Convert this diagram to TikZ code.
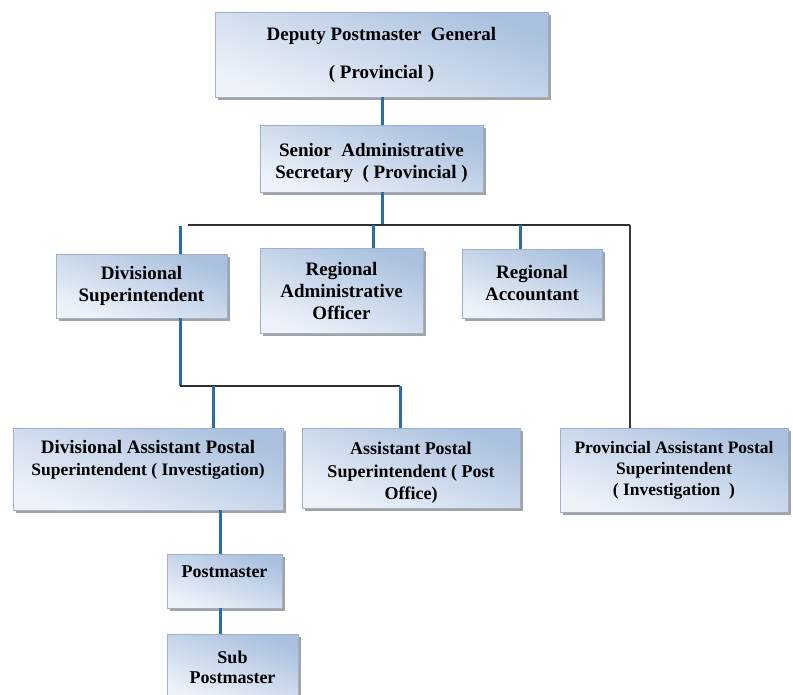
\documentclass[tikz,border=0pt]{standalone}
\usepackage{fontspec}
\setmainfont{Liberation Serif}
\usetikzlibrary{shadows}
\definecolor{boxtop}{HTML}{A9C0DE}
\definecolor{boxbot}{HTML}{EEF3FA}
\definecolor{boxline}{HTML}{9FB1C6}
\definecolor{vblue}{HTML}{2E6DA4}
\definecolor{hdark}{HTML}{2F2F2F}
\tikzset{
  box/.style={draw=boxline, line width=0.6pt, top color=boxtop, bottom color=boxbot,
    shading angle=-20, align=center, inner sep=2pt,
    font=\fontsize{19}{22}\selectfont\bfseries,
    drop shadow={shadow xshift=3pt, shadow yshift=-3pt, fill=black!45, opacity=0.8}},
  small/.style={font=\fontsize{17.5}{21}\selectfont\bfseries},
  vline/.style={draw=vblue, line width=3pt},
  hline/.style={draw=hdark, line width=1.8pt},
  thinline/.style={draw=hdark!80!vblue, line width=1.6pt}
}
\begin{document}
\begin{tikzpicture}[x=1pt,y=-1pt]
\useasboundingbox (0,0) rectangle (793,694);
\clip (0,0) rectangle (793,694);
% boxes
\node[box, minimum width=333pt, minimum height=85pt] (dpg) at (381.5,54.5)
  {Deputy Postmaster\ \ General\\[16pt]( Provincial )};
\node[box, minimum width=223pt, minimum height=67pt] (sas) at (371.5,158.5)
  {\rule{0pt}{23pt}Senior\ \ Administrative\\Secretary\ \ ( Provincial )};
\node[box, minimum width=171pt, minimum height=64pt] (ds) at (141.5,286)
  {Divisional\\Superintendent};
\node[box, minimum width=163pt, minimum height=85pt] (rao) at (341.5,290.5)
  {Regional\\Administrative\\Officer};
\node[box, minimum width=140pt, minimum height=69pt] (ra) at (532,283.5)
  {Regional\\Accountant};
\node[box, minimum width=270pt, minimum height=82pt, text depth=22pt] (dap) at (148,469)
  {Divisional Assistant Postal\\{\fontsize{17.5}{21}\selectfont Superintendent ( Investigation)}};
\node[box, minimum width=218pt, minimum height=80pt, font=\fontsize{18}{22.5}\selectfont\bfseries] (ap) at (411,468)
  {\rule{0pt}{22pt}Assistant Postal\\Superintendent ( Post\\Office)};
\node[box, small, minimum width=228pt, minimum height=84pt] (pap) at (674,470)
  {Provincial Assistant Postal\\Superintendent\\( Investigation\ \ )};
\node[box, minimum width=115pt, minimum height=54pt, text depth=18pt, font=\fontsize{18}{21}\selectfont\bfseries] (pm) at (224.5,581)
  {Postmaster};
\node[box, minimum width=131pt, minimum height=66pt, font=\fontsize{18}{20}\selectfont\bfseries] (sp) at (232.5,667)
  {Sub\\Postmaster};
% helper coordinates
\coordinate (busL) at (188,225);
\coordinate (busR) at (630,225);
\coordinate (dsT) at (180,226);
\coordinate (dsB) at (180,386);
\coordinate (lowR) at (400,386);
\coordinate (dapT) at (213,386);
\coordinate (raoT) at (373,225);
\coordinate (raT) at (520,225);
\coordinate (sasB) at (382,225);
\coordinate (dapB) at (220,0);
% connectors
\draw[vline] (dpg.south -| sasB) -- (sas.north -| sasB);
\draw[vline] (sas.south -| sasB) -- (sasB);
\draw[hline] (busL) -- (busR);
\draw[vline] (dsT) -- (dsT |- ds.north);
\draw[vline] (raoT) -- (raoT |- rao.north);
\draw[vline] (raT) -- (raT |- ra.north);
\draw[thinline] (busR) -- (busR |- pap.north);
\draw[vline] (dsB |- ds.south) -- (dsB);
\draw[hline] (dsB) -- (lowR);
\draw[vline] (dapT) -- (dapT |- dap.north);
\draw[vline] (lowR) -- (lowR |- ap.north);
\draw[vline] (dap.south -| dapB) -- (pm.north -| dapB);
\draw[vline] (pm.south -| dapB) -- (sp.north -| dapB);
\end{tikzpicture}
\end{document}
